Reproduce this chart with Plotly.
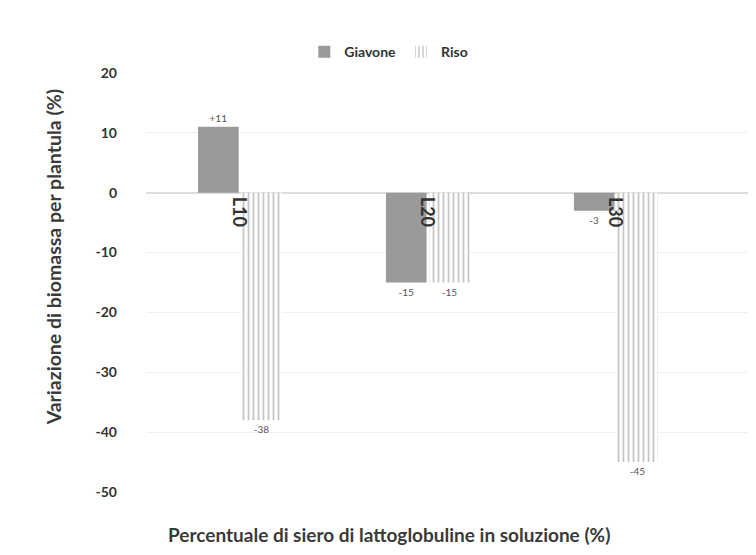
import plotly.graph_objects as go

categories = ["L10", "L20", "L30"]
giavone = [11, -15, -3]
riso = [-38, -15, -45]
giavone_labels = ["+11", "-15", "-3"]
riso_labels = ["-38", "-15", "-45"]
y_ticks = [20, 10, 0, -10, -20, -30, -40, -50]
y_tick_text = ["20", "10", "0", "-10", "-20", "-30", "-40", "-50"]

fig = go.Figure()
fig.add_trace(go.Bar(
    name="Giavone", x=categories, y=giavone, text=giavone_labels,
    textposition="outside", marker=dict(color="#9a9a9a", line=dict(width=0)),
    textfont=dict(size=10, color="#555555"), cliponaxis=False,
))
fig.add_trace(go.Bar(
    name="Riso", x=categories, y=riso, text=riso_labels,
    textposition="outside",
    marker=dict(color="white", line=dict(width=0),
                pattern=dict(shape="|", fgcolor="#8c8c8c", bgcolor="white", size=5, solidity=0.35)),
    textfont=dict(size=10, color="#555555"), cliponaxis=False,
))

for c in categories:
    fig.add_annotation(x=c, y=0, text=c, textangle=90, showarrow=False,
                       xanchor="center", yanchor="top", yshift=-2,
                       font=dict(size=18, color="#333333", family="Lato", weight="bold"))

fig.add_annotation(xref="paper", yref="paper", x=0.4, y=0, yshift=-42,
                   xanchor="center", yanchor="middle", showarrow=False,
                   text="Percentuale di siero di lattoglobuline in soluzione (%)",
                   font=dict(size=19, color="#3a3a3a", family="Lato", weight="bold"))

fig.add_annotation(xref="paper", yref="paper", x=0, y=0.56, xshift=-93,
                   xanchor="center", yanchor="middle", showarrow=False, textangle=-90,
                   text="Variazione di biomassa per plantula (%)",
                   font=dict(size=19.5, color="#3a3a3a", family="Lato", weight="bold"))

fig.update_layout(
    width=756, height=555,
    paper_bgcolor="white", plot_bgcolor="white",
    margin=dict(l=138, r=11, t=65, b=71),
    barmode="group", bargap=0.54, bargroupgap=0.06,
    font=dict(family="Lato", color="#404040"),
    legend=dict(orientation="h", x=0.4, y=1.05, xanchor="center", yanchor="middle",
                font=dict(size=14, color="#333333", weight="bold")),
    xaxis=dict(showticklabels=False, showline=False, showgrid=False,
               range=[-0.5, 2.73]),
    yaxis=dict(range=[-50, 20], tickvals=y_ticks, ticktext=y_tick_text,
               showgrid=True, gridcolor="#efefef",
               zeroline=True, zerolinecolor="#dddddd", showline=False,
               ticklabelstandoff=28,
               tickfont=dict(size=14, color="#333333", weight="bold")),
)

fig.write_html("out.html")
